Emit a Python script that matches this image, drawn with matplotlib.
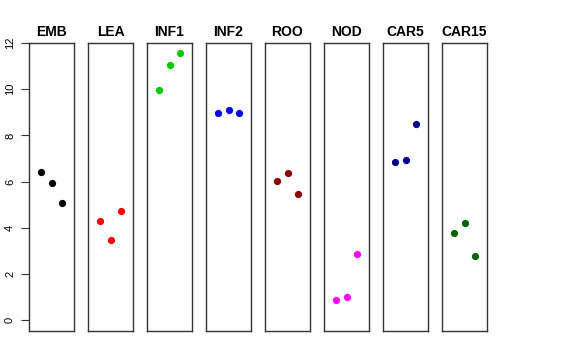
import matplotlib
matplotlib.use("Agg")
import matplotlib.pyplot as plt

plt.rcParams['font.family'] = ['Liberation Sans', 'DejaVu Sans']

groups = ["EMB", "LEA", "INF1", "INF2", "ROO", "NOD", "CAR5", "CAR15"]
colors = ["black", "red", "#00CD00", "blue", "#8B0000", "magenta", "#00008B", "#006400"]
values = [
    [6.42, 5.93, 5.06],
    [4.31, 3.47, 4.73],
    [9.97, 11.03, 11.56],
    [8.99, 9.12, 8.99],
    [6.03, 6.39, 5.48],
    [0.90, 1.02, 2.87],
    [6.84, 6.93, 8.49],
    [3.76, 4.20, 2.77],
]
yticks = [0, 2, 4, 6, 8, 10, 12]

W, H = 576, 360
fig = plt.figure(figsize=(W / 100, H / 100), dpi=100)

left0, step, pw = 29, 59, 45
top, bottom = 43, 331

for i, (g, c, v) in enumerate(zip(groups, colors, values)):
    ax = fig.add_axes([(left0 + i * step) / W, 1 - bottom / H, pw / W, (bottom - top) / H])
    ax.plot([1, 2, 3], v, "o", color=c, markersize=5.2, markeredgewidth=0)
    ax.set_xlim(-0.2, 4.2)
    ax.set_ylim(-0.46, 12.0)
    ax.set_xticks([])
    for s in ax.spines.values():
        s.set_color("#333333")
        s.set_linewidth(1.0)
    ax.set_title(g, fontsize=10, fontweight="bold", pad=5)
    if i == 0:
        ax.set_yticks(yticks)
        ax.set_yticklabels([str(t) for t in yticks], rotation=90, va="center", fontsize=8)
        ax.tick_params(axis="y", length=6, width=0.8, color="#333333", pad=4)
        ax.spines["left"].set_visible(True)
    else:
        ax.set_yticks([])

fig.savefig("out.png", dpi=100)
